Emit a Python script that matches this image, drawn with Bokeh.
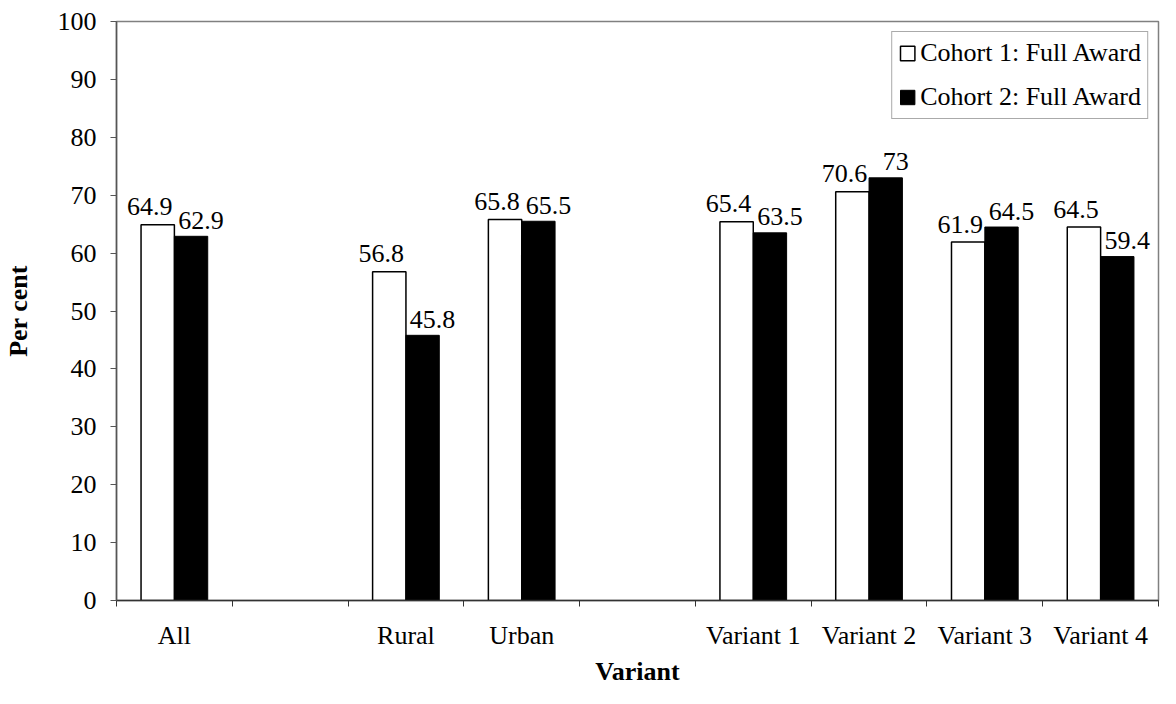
import numpy as np
from bokeh.plotting import figure
from bokeh.models import ColumnDataSource, Range1d, FixedTicker, Legend, LegendItem
from bokeh.core.properties import value
from bokeh.embed import file_html
from bokeh.resources import INLINE

categories = ["All", "", "Rural", "Urban", "", "Variant 1", "Variant 2", "Variant 3", "Variant 4"]
cohort1 = [64.9, np.nan, 56.8, 65.8, np.nan, 65.4, 70.6, 61.9, 64.5]
cohort2 = [62.9, np.nan, 45.8, 65.5, np.nan, 63.5, 73, 64.5, 59.4]
y_ticks = list(range(0, 101, 10))
series_names = ["Cohort 1: Full Award", "Cohort 2: Full Award"]

FONT = "'Liberation Serif', 'Times New Roman', serif"
FS = "26px"
n = len(categories)
centers = np.arange(n) + 0.5
bw = 0.288

def fmt(v):
    if np.isnan(v):
        return ""
    return ("%g" % v)

src1 = ColumnDataSource(dict(x=centers - bw / 2, top=cohort1, lab=[fmt(v) for v in cohort1]))
src2 = ColumnDataSource(dict(x=centers + bw / 2, top=cohort2, lab=[fmt(v) for v in cohort2]))

p = figure(width=1160, height=688, output_backend="svg", toolbar_location=None,
           x_range=Range1d(0, n), y_range=Range1d(0, 100),
           min_border_left=105, min_border_right=2, min_border_top=21, min_border_bottom=86)
p.background_fill_color = "white"
p.border_fill_color = "white"
p.outline_line_color = "#808080"
p.outline_line_width = 1.5
p.xgrid.visible = False
p.ygrid.visible = False

r1 = p.vbar(x="x", top="top", width=bw, source=src1, fill_color="white",
            line_color="black", line_width=1.5)
r2 = p.vbar(x="x", top="top", width=bw, source=src2, fill_color="black",
            line_color="black", line_width=1)

p.text(x="x", y="top", text="lab", source=src1, text_font=value(FONT),
       text_font_size=FS, text_align="center", text_baseline="alphabetic",
       x_offset=-8, y_offset=-18, text_color="black")
p.text(x="x", y="top", text="lab", source=src2, text_font=value(FONT),
       text_font_size=FS, text_align="center", text_baseline="alphabetic",
       x_offset=10, y_offset=-16, text_color="black")

# y axis
ya = p.yaxis[0]
ya.ticker = FixedTicker(ticks=y_ticks)
ya.major_tick_out = 6
ya.major_tick_in = 0
ya.minor_tick_out = 0
ya.minor_tick_in = 0
ya.axis_line_color = "#555555"
ya.axis_line_width = 1.5
ya.major_tick_line_color = "#555555"
ya.major_label_text_font = FONT
ya.major_label_text_font_size = FS
ya.major_label_text_color = "black"
ya.major_label_standoff = 14
ya.axis_label = "Per cent"
ya.axis_label_text_font = FONT
ya.axis_label_text_font_size = FS
ya.axis_label_text_font_style = "bold"
ya.axis_label_text_color = "black"
ya.axis_label_standoff = 22

# x axis: labels at category centres, ticks at boundaries
xa = p.xaxis[0]
xa.ticker = FixedTicker(ticks=list(centers), minor_ticks=list(range(n + 1)))
xa.major_label_overrides = {float(c): lab for c, lab in zip(centers, categories)}
xa.major_tick_out = 0
xa.major_tick_in = 0
xa.minor_tick_out = 6
xa.minor_tick_in = 0
xa.minor_tick_line_color = "#333333"
xa.axis_line_color = "#333333"
xa.axis_line_width = 1.5
xa.major_label_text_font = FONT
xa.major_label_text_font_size = FS
xa.major_label_text_color = "black"
xa.major_label_standoff = 14
xa.axis_label = "Variant"
xa.axis_label_text_font = FONT
xa.axis_label_text_font_size = FS
xa.axis_label_text_font_style = "bold"
xa.axis_label_text_color = "black"
xa.axis_label_standoff = 4

legend = Legend(items=[LegendItem(label=series_names[0], renderers=[r1]),
                       LegendItem(label=series_names[1], renderers=[r2])],
                location="top_right")
legend.label_text_font = FONT
legend.label_text_font_size = FS
legend.label_text_color = "black"
legend.label_height = 30
legend.glyph_width = 18
legend.glyph_height = 18
legend.label_standoff = 4
legend.padding = 6
legend.spacing = 14
legend.margin = 10
legend.border_line_color = "#555555"
legend.border_line_width = 1
legend.background_fill_alpha = 1
p.add_layout(legend)

open("out.html", "w").write(file_html(p, INLINE))
